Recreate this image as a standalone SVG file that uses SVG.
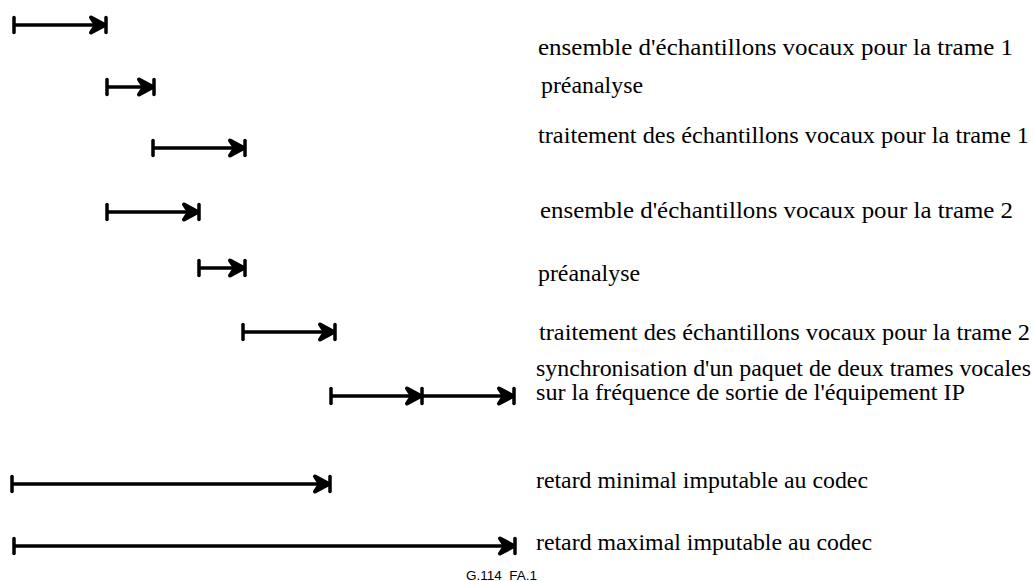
<svg xmlns="http://www.w3.org/2000/svg" width="1034" height="581" viewBox="0 0 1034 581">
<style>
.lbl{font-family:"Liberation Serif","Times New Roman",serif;font-size:24px;fill:#000}
.ref{font-family:"Liberation Sans",Arial,sans-serif;font-size:13.5px;fill:#000;white-space:pre}
.arr{stroke:#000;stroke-width:3.5;fill:none;marker-start:url(#tick);marker-end:url(#head)}
</style>
<defs>
<marker id="tick" markerUnits="userSpaceOnUse" orient="auto" refX="0" refY="0" markerWidth="20" markerHeight="20" overflow="visible">
<path d="M0,-7.5V7.5" stroke="#000" stroke-width="3.5" stroke-linecap="round" fill="none"/>
</marker>
<marker id="head" markerUnits="userSpaceOnUse" orient="auto" refX="0" refY="0" markerWidth="20" markerHeight="20" overflow="visible">
<path d="M0,-7.5V7.5" stroke="#000" stroke-width="3.5" stroke-linecap="round" fill="none"/>
<path d="M-1,0L-15,-7.5L-10,0L-15,7.5Z" stroke="#000" stroke-width="4" stroke-linejoin="round" fill="#000"/>
</marker>
</defs>
<g id="connectors">
<path class="arr" d="M14,25H106"/>
<path class="arr" d="M107,87H154"/>
<path class="arr" d="M153,148H245"/>
<path class="arr" d="M107,212H199"/>
<path class="arr" d="M199,268H245"/>
<path class="arr" d="M243,332H335"/>
<path class="arr" d="M331,396H422H514" style="marker-mid:url(#head)"/>
<path class="arr" d="M12,484H330"/>
<path class="arr" d="M14,546H515"/>
</g>
<g id="n1"><text class="lbl" x="538" y="55" textLength="475" lengthAdjust="spacingAndGlyphs">ensemble d'échantillons vocaux pour la trame 1</text></g>
<g id="n2"><text class="lbl" x="541" y="93" textLength="102" lengthAdjust="spacingAndGlyphs">préanalyse</text></g>
<g id="n3"><text class="lbl" x="538" y="143" textLength="491" lengthAdjust="spacingAndGlyphs">traitement des échantillons vocaux pour la trame 1</text></g>
<g id="n4"><text class="lbl" x="540" y="218" textLength="473" lengthAdjust="spacingAndGlyphs">ensemble d'échantillons vocaux pour la trame 2</text></g>
<g id="n5"><text class="lbl" x="538" y="281" textLength="102" lengthAdjust="spacingAndGlyphs">préanalyse</text></g>
<g id="n6"><text class="lbl" x="539" y="340" textLength="491" lengthAdjust="spacingAndGlyphs">traitement des échantillons vocaux pour la trame 2</text></g>
<g id="n7"><text class="lbl" x="536" y="376" textLength="495" lengthAdjust="spacingAndGlyphs">synchronisation d'un paquet de deux trames vocales</text><text class="lbl" x="536" y="400" textLength="429" lengthAdjust="spacingAndGlyphs">sur la fréquence de sortie de l'équipement IP</text></g>
<g id="n8"><text class="lbl" x="536" y="488" textLength="332" lengthAdjust="spacingAndGlyphs">retard minimal imputable au codec</text></g>
<g id="n9"><text class="lbl" x="536" y="550" textLength="336" lengthAdjust="spacingAndGlyphs">retard maximal imputable au codec</text></g>
<g id="fig"><text class="ref" x="466" y="580">G.114  FA.1</text></g>
</svg>
